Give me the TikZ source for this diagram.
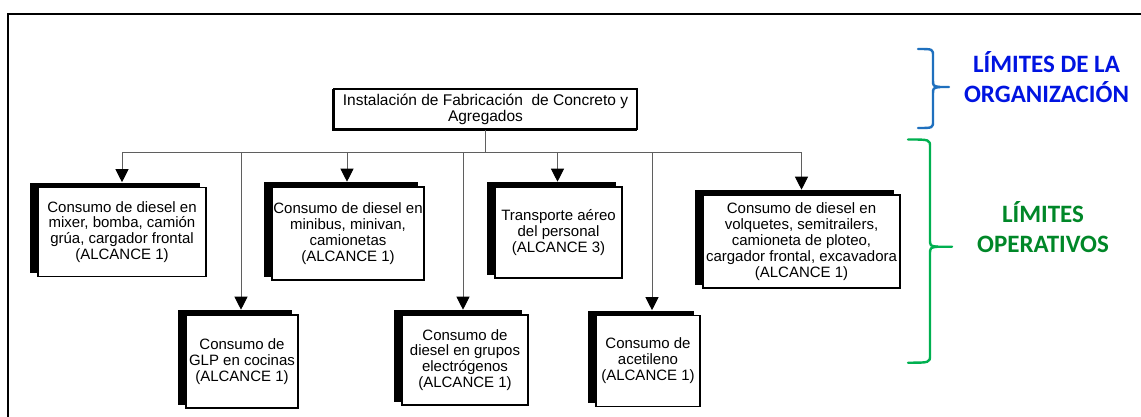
\documentclass[tikz,border=0pt]{standalone}
\usepackage{fontspec}
\setmainfont{Liberation Sans}
\newfontfamily\calib{Carlito}
\usetikzlibrary{arrows.meta,shadows,calc}
\definecolor{bracketblue}{RGB}{31,112,190}
\definecolor{labelblue}{RGB}{0,20,225}
\definecolor{bracketgreen}{RGB}{0,176,80}
\definecolor{labelgreen}{RGB}{0,135,40}
\definecolor{conncol}{RGB}{95,95,95}
\begin{document}
\begin{tikzpicture}[x=1pt,y=-1pt,
  box/.style={draw=black, line width=1.6pt, fill=white, align=center, inner sep=0pt,
    font=\fontsize{15}{15.9}\selectfont,
    copy shadow={shadow xshift=-7pt, shadow yshift=4pt, fill=black, draw=black}},
  topbox/.style={draw=black, line width=2.4pt, fill=white, align=center, inner sep=0pt,
    font=\fontsize{15.5}{16}\selectfont,
    copy shadow={shadow xshift=-1.2pt, shadow yshift=-1.2pt, fill=black, draw=black}},
  conn/.style={draw=conncol, line width=1pt},
  arr/.style={conn, -{Triangle[width=13pt,length=13pt,color=black]}},
  brace/.style={line width=2.4pt, line cap=round, line join=round},
  lbl/.style={align=center, font=\calib\bfseries\fontsize{25}{30}\selectfont}
]
\useasboundingbox (0,0) rectangle (1141,416);
\clip (0,0) rectangle (1141,416);
\fill[white] (0,0) rectangle (1141,416);
% frame
\draw[line width=2pt] (7.5,430) -- (7.5,13.5) -- (1160,13.5);

% top node
\node[topbox, minimum width=303pt, minimum height=40pt] (top) at (485.5,109)
  {Instalación de Fabricación\ \ de Concreto y\\Agregados};

% boxes
\node[box, minimum width=168pt, minimum height=89pt] (b1) at (122,232)
  {Consumo de diesel en\\mixer, bomba, camión\\grúa, cargador frontal\\(ALCANCE 1)};
\node[box, minimum width=152pt, minimum height=93pt] (b2) at (348,233.5)
  {Consumo de diesel en\\minibus, minivan,\\camionetas\\(ALCANCE 1)};
\node[box, minimum width=127pt, minimum height=91pt] (b3) at (558.5,232.5)
  {Transporte aéreo\\del personal\\(ALCANCE 3)};
\node[box, minimum width=197pt, minimum height=93pt] (b4) at (801.5,241.5)
  {Consumo de diesel en\\volquetes, semitrailers,\\camioneta de ploteo,\\cargador frontal, excavadora\\(ALCANCE 1)};
\node[box, minimum width=112pt, minimum height=93pt] (b5) at (242,361.5)
  {Consumo de\\GLP en cocinas\\(ALCANCE 1)};
\node[box, minimum width=126pt, minimum height=90pt] (b6) at (465,360)
  {Consumo de\\diesel en grupos\\electrógenos\\(ALCANCE 1)};
\node[box, minimum width=104pt, minimum height=91pt] (b7) at (648,361)
  {Consumo de\\acetileno\\(ALCANCE 1)};

% connectors
\coordinate (bus) at (0,152);
\draw[conn] (top.south) -- (top.south |- bus);
\coordinate (a1) at ($(b1.north)+(0,-4.5)$);
\coordinate (a2) at ($(b2.north)+(-1,-4.5)$);
\coordinate (a3) at ($(b3.north)+(-1,-4.5)$);
\coordinate (a4) at ($(b4.north)+(0,-4.5)$);
\coordinate (a5) at ($(b5.north)+(-1,-4.5)$);
\coordinate (a6) at ($(b6.north)+(-2,-4.5)$);
\coordinate (a7) at ($(b7.north)+(4,-4.5)$);
\draw[conn] (a1 |- bus) -- (a4 |- bus);
\foreach \i in {1,...,7}{
  \draw[arr] (a\i |- bus) -- (a\i);
}

% brackets
\draw[brace, bracketblue] (918,49) .. controls (933,49) .. (933,56) -- (933,80)
  .. controls (933,86) .. (940,87) -- (949,87);
\draw[brace, bracketblue] (940,87) .. controls (933,88) .. (933,94) -- (933,121)
  .. controls (933,128) .. (918,128);
\draw[brace, bracketgreen] (908,139.5) .. controls (930,139.5) .. (930,147) -- (930,239)
  .. controls (930,246) .. (938,246.7) -- (952,246.7);
\draw[brace, bracketgreen] (938,246.7) .. controls (930,247.5) .. (930,255) -- (930,355)
  .. controls (930,362.7) .. (908,362.7);

% labels
\node[lbl, text=labelblue] (org) at (1046.5,77) {LÍMITES DE LA\\ORGANIZACIÓN};
\node[lbl, text=labelgreen] (ope) at (1043,227) {LÍMITES\\OPERATIVOS};
\end{tikzpicture}
\end{document}
